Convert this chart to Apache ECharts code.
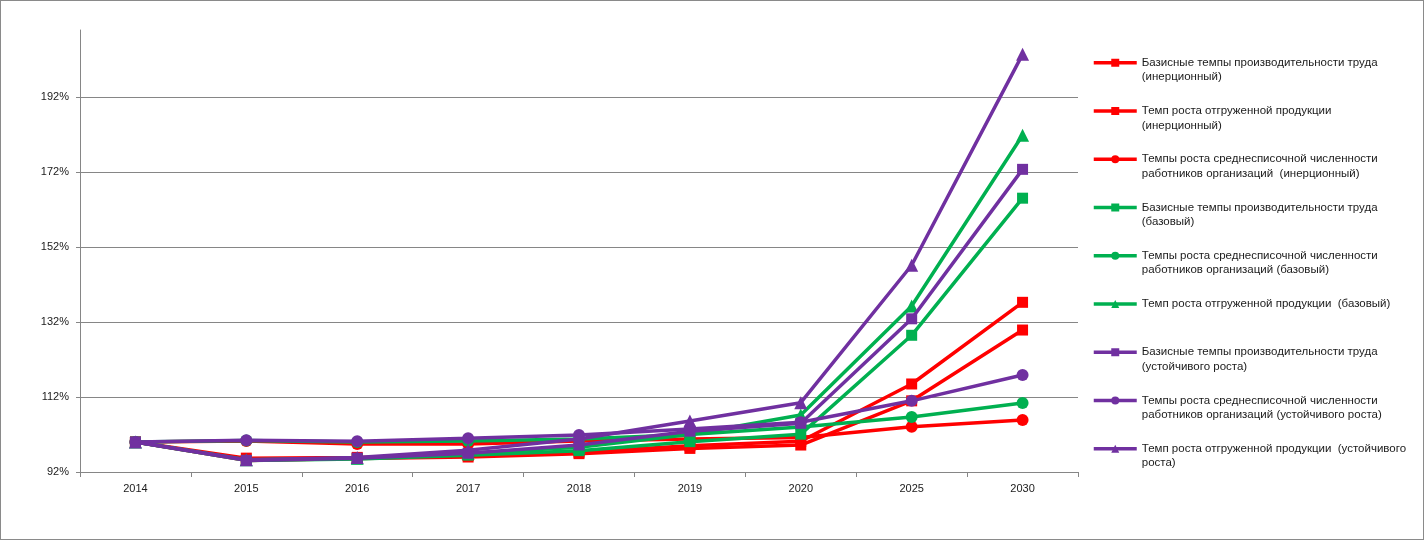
<!DOCTYPE html>
<html><head><meta charset="utf-8">
<script src="https://cdn.jsdelivr.net/npm/echarts@6/dist/echarts.min.js"></script>
<style>
html,body{margin:0;padding:0;background:#fff}
#wrap{position:relative;width:1424px;height:540px}
#c{width:1424px;height:540px}
#f{position:absolute;left:0;top:0;width:1424px;height:540px;box-sizing:border-box;border:1px solid #8a8a8a;pointer-events:none}
</style>
</head><body>
<div id="wrap"><div id="c"></div><div id="f"></div></div>
<script>
const years = ['2014','2015','2016','2017','2018','2019','2020','2025','2030'];

// Инерционный сценарий
const prodInert   = [100, 95.1, 95.6, 96.0, 96.9, 98.3, 99.2, 111.0, 129.9];
const outInert    = [100, 95.7, 95.9, 96.4, 97.3, 99.0, 100.2, 115.5, 137.3];
const empInert    = [100, 100.3, 99.5, 99.5, 100.3, 100.8, 101.2, 104.1, 105.9];
// Базовый сценарий
const prodBase    = [100, 95.1, 95.5, 96.5, 97.7, 100.1, 102.1, 128.5, 165.1];
const empBase     = [100, 100.4, 100.0, 100.3, 100.8, 102.0, 104.0, 106.7, 110.4];
const outBase     = [100, 95.3, 95.7, 97.0, 98.6, 102.0, 107.2, 136.3, 181.9];
// Сценарий устойчивого роста
const prodSust    = [100, 95.1, 95.7, 97.0, 99.2, 102.9, 105.0, 132.9, 172.8];
const empSust     = [100, 100.5, 100.2, 101.0, 101.9, 103.5, 105.3, 111.0, 117.9];
const outSust     = [100, 95.3, 95.9, 97.8, 100.8, 105.6, 110.5, 147.2, 203.5];

const names = [
  'Базисные темпы производительности труда (инерционный)',
  'Темп роста отгруженной продукции (инерционный)',
  'Темпы роста среднесписочной численности работников организаций  (инерционный)',
  'Базисные темпы производительности труда (базовый)',
  'Темпы роста среднесписочной численности работников организаций (базовый)',
  'Темп роста отгруженной продукции  (базовый)',
  'Базисные темпы производительности труда (устойчивого роста)',
  'Темпы роста среднесписочной численности работников организаций (устойчивого роста)',
  'Темп роста отгруженной продукции  (устойчивого роста)'
];
const legendLabels = [
  'Базисные темпы производительности труда\n(инерционный)',
  'Темп роста отгруженной продукции\n(инерционный)',
  'Темпы роста среднесписочной численности\nработников организаций  (инерционный)',
  'Базисные темпы производительности труда\n(базовый)',
  'Темпы роста среднесписочной численности\nработников организаций (базовый)',
  'Темп роста отгруженной продукции  (базовый)\n',
  'Базисные темпы производительности труда\n(устойчивого роста)',
  'Темпы роста среднесписочной численности\nработников организаций (устойчивого роста)',
  'Темп роста отгруженной продукции  (устойчивого\nроста)'
];
const seriesData = [prodInert, outInert, empInert, prodBase, empBase, outBase, prodSust, empSust, outSust];
const colors = ['#FF0000','#FF0000','#FF0000','#00B050','#00B050','#00B050','#7030A0','#7030A0','#7030A0'];
const symbols = ['rect','rect','circle','rect','circle','triangle','rect','circle','triangle'];
const symSizes = {rect: 11, circle: 12, triangle: 13};

const FONT = "'Liberation Sans', Arial, sans-serif";
const chart = echarts.init(document.getElementById('c'), null, {renderer: 'canvas'});

const series = seriesData.map((d, i) => ({
  name: names[i],
  type: 'line',
  data: d,
  symbol: symbols[i],
  symbolSize: symSizes[symbols[i]],
  showAllSymbol: true,
  lineStyle: {width: 3.5, color: colors[i]},
  itemStyle: {color: colors[i]},
  z: 2 + i,
  emphasis: {disabled: true}
}));

chart.setOption({
  animation: false,
  backgroundColor: '#ffffff',
  textStyle: {fontFamily: FONT},
  grid: {left: 80, right: 346, top: 30, bottom: 68, containLabel: false},
  legend: {
    orient: 'vertical',
    left: 1087,
    top: 36,
    itemWidth: 43,
    itemHeight: 10,
    itemGap: 4.75,
    data: names,
    lineStyle: {width: 3.5},
    formatter: name => '\n' + legendLabels[names.indexOf(name)],
    textStyle: {fontSize: 11.5, lineHeight: 14.5, color: '#1a1a1a', fontFamily: FONT},
    selectedMode: false
  },
  xAxis: {
    type: 'category',
    data: years,
    boundaryGap: true,
    axisLine: {lineStyle: {color: '#868686', width: 1}},
    axisTick: {show: true, length: 5, lineStyle: {color: '#868686'}},
    axisLabel: {fontSize: 11, color: '#1a1a1a', margin: 11, fontFamily: FONT}
  },
  yAxis: {
    type: 'value',
    min: 92,
    max: 210,
    interval: 20,
    axisLine: {show: true, lineStyle: {color: '#868686', width: 1}},
    axisTick: {show: true, length: 4, lineStyle: {color: '#868686'}},
    axisLabel: {fontSize: 11, color: '#1a1a1a', margin: 11, formatter: '{value}%', showMaxLabel: false, fontFamily: FONT},
    splitLine: {show: true, showMaxLine: false, lineStyle: {color: ['#868686','#868686','#868686','#868686','#868686','#868686','rgba(0,0,0,0)'], width: 1}}
  },
  series: series
});
</script>
</body></html>
